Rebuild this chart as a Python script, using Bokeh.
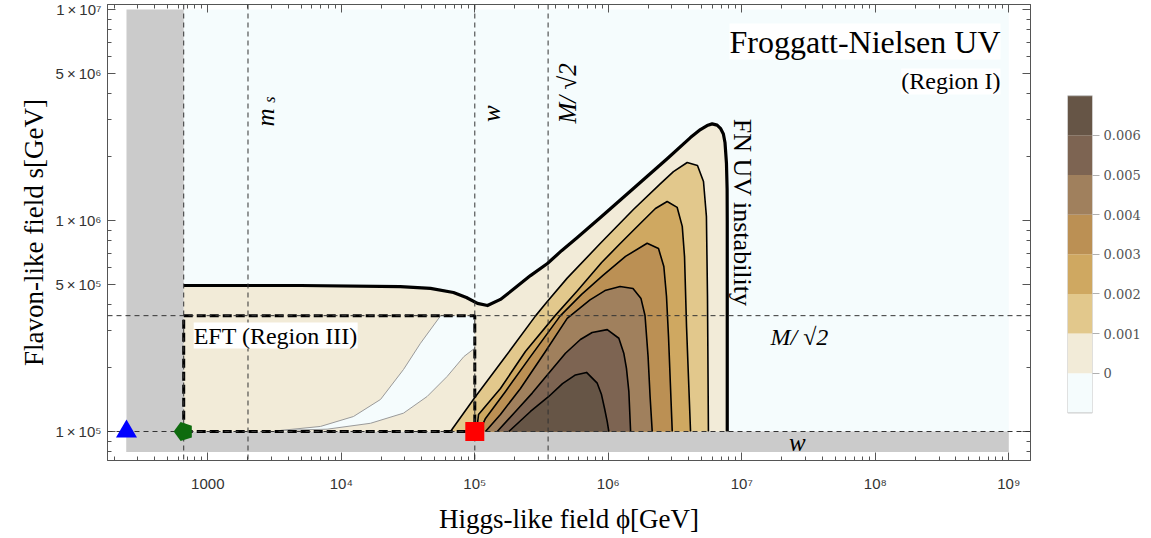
import math
from bokeh.plotting import figure
from bokeh.layouts import row
from bokeh.models import Range1d, FixedTicker, CustomJSTickFormatter, LogAxis, Span, Label
from bokeh.embed import file_html
from bokeh.resources import INLINE

# ---------------- chart values (GeV) ----------------
v_ew = 246.0          # blue triangle, EW vacuum
m_phi = 660.0         # green pentagon, EFT lower edge
m_s = 2.0e3           # m_s line
w_vev = 1.0e5         # w, red square
M_sqrt2 = 3.54e5      # M/sqrt(2)
phi_end = 1.0e9
s_end = 1.0e7
s_floor = 8.0e4

x_tick_vals = [1e3, 1e4, 1e5, 1e6, 1e7, 1e8, 1e9]
x_tick_labels = ["1000", "10⁴", "10⁵", "10⁶", "10⁷", "10⁸", "10⁹"]
x_minor_vals = [m * 10 ** e for e in range(2, 9) for m in range(2, 10)]
y_tick_vals = [1e5, 5e5, 1e6, 5e6, 1e7]
y_tick_labels = ["1\u2009×\u200910⁵", "5\u2009×\u200910⁵", "1\u2009×\u200910⁶", "5\u2009×\u200910⁶", "1\u2009×\u200910⁷"]
y_minor_vals = [8e4, 9e4, 2e5, 3e5, 4e5, 6e5, 7e5, 8e5, 9e5, 2e6, 3e6, 4e6, 6e6, 7e6, 8e6, 9e6]

cbar_levels = [-0.001, 0.0, 0.001, 0.002, 0.003, 0.004, 0.005, 0.006, 0.007]
cbar_ticks = [0.0, 0.001, 0.002, 0.003, 0.004, 0.005, 0.006]
cbar_tick_labels = ["0", "0.001", "0.002", "0.003", "0.004", "0.005", "0.006"]
band_colors = ["#F5FCFD", "#F2EBD8", "#E2C88C", "#CFA861", "#BB9054", "#A0805D", "#7D6452", "#665546"]

# contour lines, as log10(phi/GeV), log10(s/GeV)
c0_lphi = [2.820, 3.694, 4.443, 4.668, 4.840, 4.937, 5.020, 5.095, 5.192, 5.305, 5.417, 5.544, 5.650, 5.768, 5.941,
           6.188, 6.443, 6.615, 6.690, 6.740, 6.778, 6.815, 6.840, 6.862, 6.874, 6.885, 6.890, 6.891, 6.891]
c0_ls = [5.692, 5.692, 5.687, 5.678, 5.659, 5.635, 5.607, 5.597, 5.626, 5.682, 5.739, 5.796, 5.857, 5.919, 6.014,
         6.152, 6.294, 6.393, 6.431, 6.450, 6.458, 6.452, 6.437, 6.410, 6.370, 6.272, 6.150, 6.000, 5.000]

c1_lphi = [4.818, 5.000, 5.230, 5.455, 5.540, 5.692, 5.941, 6.188, 6.391, 6.488, 6.591, 6.668, 6.713, 6.735, 6.743, 6.750]
c1_ls = [5.000, 5.161, 5.355, 5.548, 5.614, 5.727, 5.892, 6.052, 6.175, 6.232, 6.275, 6.261, 6.185, 6.019, 5.640, 5.000]

c2_lphi = [5.013, 5.028, 5.192, 5.379, 5.600, 5.770, 5.950, 6.091, 6.241, 6.353, 6.441, 6.516, 6.554, 6.571, 6.586, 6.616]
c2_ls = [5.000, 5.081, 5.204, 5.379, 5.548, 5.668, 5.801, 5.892, 5.987, 6.057, 6.090, 6.062, 5.972, 5.829, 5.498, 5.000]

c3_lphi = [5.035, 5.080, 5.230, 5.417, 5.640, 5.800, 5.960, 6.129, 6.291, 6.376, 6.416, 6.436, 6.451, 6.479]
c3_ls = [5.000, 5.062, 5.190, 5.355, 5.548, 5.650, 5.740, 5.830, 5.892, 5.867, 5.782, 5.640, 5.450, 5.000]

c4_lphi = [5.080, 5.192, 5.342, 5.529, 5.692, 5.863, 5.975, 6.088, 6.185, 6.245, 6.275, 6.298, 6.313, 6.329]
c4_ls = [5.000, 5.081, 5.204, 5.379, 5.536, 5.624, 5.668, 5.687, 5.678, 5.630, 5.550, 5.355, 5.166, 5.000]

c5_lphi = [5.168, 5.305, 5.430, 5.679, 5.791, 5.879, 5.992, 6.079, 6.116, 6.136, 6.154, 6.167]
c5_ls = [5.000, 5.095, 5.182, 5.371, 5.436, 5.469, 5.483, 5.442, 5.371, 5.299, 5.190, 5.000]

c6_lphi = [5.255, 5.417, 5.554, 5.657, 5.754, 5.837, 5.917, 5.949, 5.972, 5.992, 6.004]
c6_ls = [5.000, 5.095, 5.166, 5.227, 5.268, 5.280, 5.229, 5.175, 5.109, 5.047, 5.000]

# negative pocket inside the EFT box
pocket_upper_lphi = [3.545, 3.844, 4.091, 4.294, 4.466, 4.593, 4.743]
pocket_upper_ls = [5.005, 5.024, 5.071, 5.152, 5.294, 5.418, 5.548]
pocket_lower_lphi = [3.545, 3.894, 4.219, 4.466, 4.643, 4.793, 4.918, 5.000]
pocket_lower_ls = [5.005, 5.011, 5.039, 5.087, 5.166, 5.261, 5.355, 5.395]

SERIF = "Liberation Serif"
SANS = "Liberation Sans"


def ex(v):
    return [10 ** a for a in v]


def fmt(vals, labs):
    return CustomJSTickFormatter(args=dict(vals=vals, labs=labs), code="""
        const i = vals.findIndex(v => Math.abs(v - tick) <= 1e-6 * Math.abs(v) + 1e-12);
        return i >= 0 ? labs[i] : "";
    """)


W1, W2, H = 1038, 112, 536
BT, BB = 4, 72
p = figure(width=W1, height=H, x_axis_type="log", y_axis_type="log",
           x_range=Range1d(10 ** 2.2487, 10 ** 9.1625), y_range=Range1d(10 ** 4.8626, 10 ** 7.0237),
           output_backend="svg", toolbar_location=None,
           min_border_left=107, min_border_right=8, min_border_top=BT, min_border_bottom=BB)
p.xgrid.visible = False
p.ygrid.visible = False
p.outline_line_color = "#555555"

# background regions
p.quad(left=[m_phi], right=[phi_end], bottom=[w_vev], top=[s_end], fill_color=band_colors[0], line_color=None)
p.quad(left=[v_ew, v_ew], right=[m_phi, phi_end], bottom=[s_floor, s_floor], top=[s_end, w_vev],
       fill_color="#CBCBCB", line_color=None)

# filled contour bands
p.patch([m_phi] + ex(c0_lphi), [w_vev] + ex(c0_ls), fill_color=band_colors[1], line_color=None)
contours = [(c1_lphi, c1_ls), (c2_lphi, c2_ls), (c3_lphi, c3_ls), (c4_lphi, c4_ls), (c5_lphi, c5_ls), (c6_lphi, c6_ls)]
for k, (cx, cy) in enumerate(contours):
    p.patch(ex(cx), ex(cy), fill_color=band_colors[k + 2], line_color=None)

# pocket
px = ex(pocket_upper_lphi) + [w_vev] + ex(pocket_lower_lphi)[::-1]
py = ex(pocket_upper_ls) + [M_sqrt2] + ex(pocket_lower_ls)[::-1]
p.patch(px, py, fill_color=band_colors[0], line_color=None)
p.line(ex(pocket_upper_lphi), ex(pocket_upper_ls), line_color="#9a9a9a", line_width=1)
p.line(ex(pocket_lower_lphi), ex(pocket_lower_ls), line_color="#9a9a9a", line_width=1)

# contour lines
for cx, cy in contours:
    p.line(ex(cx), ex(cy), line_color="black", line_width=1.6, line_join="round")
p.line(ex(c0_lphi), ex(c0_ls), line_color="black", line_width=3.2, line_join="round")

# dashed reference lines
for xv in [m_phi, m_s, w_vev, M_sqrt2]:
    p.add_layout(Span(location=xv, dimension="height", line_color="#333333", line_width=1, line_dash="5 4"))
for yv in [w_vev, M_sqrt2]:
    p.add_layout(Span(location=yv, dimension="width", line_color="#333333", line_width=1, line_dash="5 4"))

# EFT box
p.line([m_phi, w_vev, w_vev, m_phi, m_phi], [w_vev, w_vev, M_sqrt2, M_sqrt2, w_vev],
       line_color="black", line_width=3, line_dash="9 4")

# markers
p.scatter([v_ew], [w_vev], marker="triangle", size=21, fill_color="#0000FF", line_color=None, level="overlay")
try:
    p.ngon([m_phi], [w_vev], radius=10, radius_units="screen", n=5, angle=math.pi / 2,
           fill_color="#0E6B0E", line_color=None, level="overlay")
except Exception:
    p.scatter([m_phi], [w_vev], marker="hex", size=19, fill_color="#0E6B0E", line_color=None, level="overlay")
p.scatter([w_vev], [w_vev], marker="square", size=19, fill_color="#FF0000", line_color=None, level="overlay")


# texts
def lab(**kw):
    base = dict(text_font=SERIF, text_color="black", text_align="center", text_baseline="middle")
    base.update(kw)
    p.add_layout(Label(**base))


lab(x=8.67e8, y=7.05e6, text="Froggatt-Nielsen UV", text_align="right", text_font_size="32px",
    background_fill_color="white")
lab(x=8.67e8, y=4.56e6, text="(Region I)", text_align="right", text_font_size="24px",
    background_fill_color="white")
lab(x=m_phi, x_offset=10, y=2.85e5, text="EFT (Region III)", text_align="left", text_font_size="24px",
    background_fill_color="white")
lab(x=7.78e6, x_offset=15, y=1.09e6, text="FN UV instability", text_font_size="26px", angle=-math.pi / 2)
lab(x=m_s, x_offset=18, y=3.08e6, text="m", text_font_size="25px", text_font_style="italic", angle=math.pi / 2)
lab(x=m_s, x_offset=22, y=3.74e6, text="s", text_font_size="16px", text_font_style="italic", angle=math.pi / 2)
lab(x=w_vev, x_offset=17, y=3.21e6, text="w", text_font_size="25px", text_font_style="italic", angle=math.pi / 2)
lab(x=M_sqrt2, x_offset=19, y=4.0e6, text="M/ √2", text_font_size="25px", text_font_style="italic",
    angle=math.pi / 2)
lab(x=2.70e7, y=2.79e5, text="M/ √2", text_font_size="24px", text_font_style="italic")
lab(x=2.61e7, y=8.87e4, text="w", text_font_size="25px", text_font_style="italic")

# axes
xt = FixedTicker(ticks=x_tick_vals, minor_ticks=x_minor_vals)
yt = FixedTicker(ticks=y_tick_vals, minor_ticks=y_minor_vals)
p.xaxis.ticker = xt
p.yaxis.ticker = yt
p.xaxis.formatter = fmt(x_tick_vals, x_tick_labels)
p.yaxis.formatter = fmt(y_tick_vals, y_tick_labels)
p.add_layout(LogAxis(ticker=xt, major_label_text_font_size="1px", major_label_text_alpha=0.0,
                     major_label_standoff=0), "above")
p.add_layout(LogAxis(ticker=yt, major_label_text_font_size="1px", major_label_text_alpha=0.0,
                     major_label_standoff=0), "right")
for ax in p.axis:
    ax.major_tick_in = 8
    ax.major_tick_out = 0
    ax.minor_tick_in = 4
    ax.minor_tick_out = 0
    ax.axis_line_color = "#555555"
    ax.major_tick_line_color = "#555555"
    ax.minor_tick_line_color = "#555555"
bx = p.below[0]
ly = p.left[0]
for ax in (bx, ly):
    ax.major_label_text_font = SANS
    ax.major_label_text_font_size = "15px"
    ax.major_label_text_color = "#333333"
    ax.axis_label_text_font = SERIF
    ax.axis_label_text_font_size = "27px"
    ax.axis_label_text_font_style = "normal"
    ax.axis_label_text_color = "black"
bx.major_label_standoff = 14
ly.major_label_standoff = 6
bx.axis_label = "Higgs-like field ϕ[GeV]"
ly.axis_label = "Flavon-like field s[GeV]"
bx.axis_label_standoff = 9
ly.axis_label_standoff = 3

# colour bar as its own small figure; frame aligned with the main frame,
# bar occupies the middle part of its y range
cb = figure(width=W2, height=H, x_range=Range1d(0, 1), y_range=Range1d(-0.0022, 0.0093),
            output_backend="svg", toolbar_location=None, x_axis_location=None, y_axis_location="right",
            min_border_left=29, min_border_right=W2 - 54, min_border_top=BT, min_border_bottom=BB)
cb.quad(left=0, right=1, bottom=cbar_levels[:-1], top=cbar_levels[1:], fill_color=band_colors, line_color=None)
cb.quad(left=[0], right=[1], bottom=[cbar_levels[0]], top=[cbar_levels[-1]], fill_color=None,
        line_color="#c4c4c4", line_width=1)
cb.xgrid.visible = False
cb.ygrid.visible = False
cb.outline_line_color = None
cb.yaxis.ticker = FixedTicker(ticks=cbar_ticks)
cb.yaxis.formatter = fmt(cbar_ticks, cbar_tick_labels)
cb.yaxis.axis_line_color = None
cb.yaxis.major_tick_in = 0
cb.yaxis.major_tick_out = 7
cb.yaxis.major_tick_line_color = "#b0b0b0"
cb.yaxis.minor_tick_line_color = None
cb.yaxis.major_label_standoff = 4
cb.yaxis.major_label_text_font = "DejaVu Serif"
cb.yaxis.major_label_text_font_size = "13px"
cb.yaxis.major_label_text_color = "#555555"

layout = row(p, cb)
open("out.html", "w").write(file_html(layout, INLINE))
